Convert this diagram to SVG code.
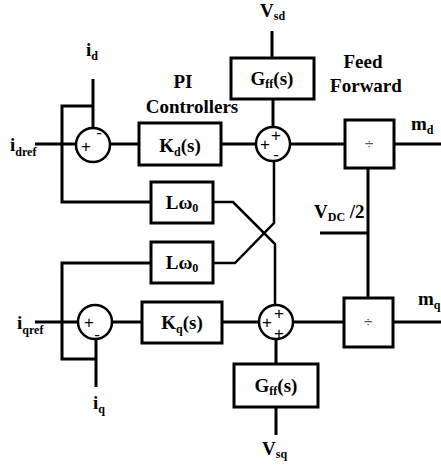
<svg xmlns="http://www.w3.org/2000/svg" width="441" height="467" viewBox="0 0 441 467">
<style>
.ln{fill:none;stroke:#000;stroke-width:3}
.dg{fill:none;stroke:#000;stroke-width:2.5}
.bx{fill:#fff;stroke:#000;stroke-width:3}
.cr{fill:#fff;stroke:#000;stroke-width:2.5}
.t{font-family:"Liberation Serif","Times New Roman",serif;font-weight:bold;fill:#000}
.b{font-size:19px}
.s{font-size:12px}
.sg{font-family:"Liberation Sans",Arial,sans-serif;font-size:17px;fill:#000}
.dv{font-family:"Liberation Sans",Arial,sans-serif;font-size:15px;fill:#555}
</style>
<rect width="441" height="467" fill="#fff"/>
<g id="connectors">
<path class="ln" d="M93,79 V128"/>
<path class="ln" d="M93,106 H62 V202 H151"/>
<path class="ln" d="M35,144 H76"/>
<path class="ln" d="M110,144 H139"/>
<path class="ln" d="M221,144 H256"/>
<path class="ln" d="M272,31 V58"/>
<path class="ln" d="M273,99 V127"/>
<path class="ln" d="M290,144 H345"/>
<path class="ln" d="M394,144 H441"/>
<path class="ln" d="M368,168 V298"/>
<path class="ln" d="M320,233 H368"/>
<path class="ln" d="M393,322 H441"/>
<path class="dg" d="M213,202 H233 L275,244 V305"/>
<path class="dg" d="M274,161 V223 L235,263 H213"/>
<path class="ln" d="M151,263 H62 V359 H96"/>
<path class="ln" d="M96,339 V387"/>
<path class="ln" d="M35,322 H78"/>
<path class="ln" d="M112,322 H142"/>
<path class="ln" d="M222,322 H259"/>
<path class="ln" d="M293,322 H344"/>
<path class="ln" d="M276,339 V364"/>
<path class="ln" d="M276,407 V435"/>
</g>
<g id="sum1">
<circle class="cr" cx="93" cy="145" r="17"/>
<text class="sg" x="86" y="152" text-anchor="middle">+</text>
<text class="sg" x="99" y="138" text-anchor="middle">-</text>
</g>
<g id="Kd">
<rect class="bx" x="139" y="123" width="82" height="42"/>
<text class="t b" x="180" y="152" text-anchor="middle">K<tspan class="s" dy="4">d</tspan><tspan dy="-4">(s)</tspan></text>
</g>
<g id="sum2">
<circle class="cr" cx="273" cy="144" r="17"/>
<text class="sg" x="276" y="141" text-anchor="middle">+</text>
<text class="sg" x="265" y="150" text-anchor="middle">+</text>
<text class="sg" x="276" y="160" text-anchor="middle">-</text>
</g>
<g id="Gff1">
<rect class="bx" x="231" y="58" width="83" height="41"/>
<text class="t b" x="272" y="85" text-anchor="middle">G<tspan class="s" dy="3">ff</tspan><tspan dy="-3">(s)</tspan></text>
</g>
<g id="div1">
<rect class="bx" x="345" y="120" width="49" height="48"/>
<text class="dv" x="369" y="149" text-anchor="middle">÷</text>
</g>
<g id="Lw1">
<rect class="bx" x="151" y="182" width="62" height="41"/>
<text class="t b" x="182" y="209" text-anchor="middle">Lω<tspan class="s" dy="3">0</tspan></text>
</g>
<g id="Lw2">
<rect class="bx" x="151" y="242" width="62" height="41"/>
<text class="t b" x="182" y="269" text-anchor="middle">Lω<tspan class="s" dy="3">0</tspan></text>
</g>
<g id="sum3">
<circle class="cr" cx="95" cy="322" r="17"/>
<text class="sg" x="89" y="328" text-anchor="middle">+</text>
<text class="sg" x="97" y="340" text-anchor="middle">-</text>
</g>
<g id="Kq">
<rect class="bx" x="142" y="302" width="80" height="41"/>
<text class="t b" x="182" y="329" text-anchor="middle">K<tspan class="s" dy="4">q</tspan><tspan dy="-4">(s)</tspan></text>
</g>
<g id="sum4">
<circle class="cr" cx="276" cy="322" r="17"/>
<text class="sg" x="279" y="319" text-anchor="middle">+</text>
<text class="sg" x="267" y="328" text-anchor="middle">+</text>
<text class="sg" x="279" y="339" text-anchor="middle">+</text>
</g>
<g id="Gff2">
<rect class="bx" x="234" y="364" width="84" height="43"/>
<text class="t b" x="276" y="392" text-anchor="middle">G<tspan class="s" dy="3">ff</tspan><tspan dy="-3">(s)</tspan></text>
</g>
<g id="div2">
<rect class="bx" x="344" y="298" width="49" height="49"/>
<text class="dv" x="368" y="327" text-anchor="middle">÷</text>
</g>
<g id="labels">
<text class="t b" x="86" y="56">i<tspan class="s" dy="4">d</tspan></text>
<text class="t b" x="10" y="151">i<tspan class="s" dy="5">dref</tspan></text>
<text class="t b" x="17" y="329">i<tspan class="s" dy="5">qref</tspan></text>
<text class="t b" x="93" y="409">i<tspan class="s" dy="4">q</tspan></text>
<text class="t b" x="260" y="17">V<tspan class="s" dy="3">sd</tspan></text>
<text class="t b" x="262" y="455">V<tspan class="s" dy="3">sq</tspan></text>
<text class="t b" x="411" y="130">m<tspan class="s" dy="4">d</tspan></text>
<text class="t b" x="418" y="305">m<tspan class="s" dy="4">q</tspan></text>
<text class="t b" x="314" y="218">V<tspan class="s" dy="3">DC</tspan><tspan dy="-3"> /2</tspan></text>
<text class="t b" x="183" y="88" text-anchor="middle">PI</text>
<text class="t b" x="192" y="113" text-anchor="middle">Controllers</text>
<text class="t b" x="363" y="68" text-anchor="middle">Feed</text>
<text class="t b" x="366" y="92" text-anchor="middle">Forward</text>
</g>
</svg>
